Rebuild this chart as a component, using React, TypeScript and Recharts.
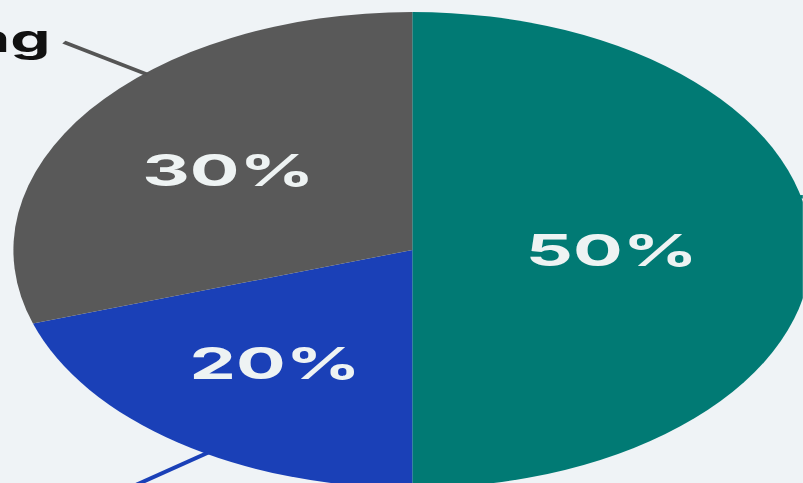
import React from 'react';
import { PieChart, Pie, Cell } from 'recharts';

const categories = ['Development', 'Design', 'Marketing'];
const shares = [50, 20, 30];
const colors = ['#017a74', '#1a40b7', '#595959'];

const data = categories.map((name, i) => ({ name, value: shares[i] }));

const STRETCH = 1.676;
const W = 479;
const H = 483;
const RAD = Math.PI / 180;
// label line start / end angle shifts relative to the slice mid angle (style)
const lineStartShift: Record<string, number> = { Development: 13, Design: 5, Marketing: -12 };
const lineEndShift: Record<string, number> = { Development: 11, Design: 0.5, Marketing: -9 };
const innerLabelFactor: Record<string, number> = { Development: 0.5, Design: 0.585, Marketing: 0.57 };
const lineColors: Record<string, string> = { Development: '#017a74', Design: '#1a40b7', Marketing: '#555555' };

const renderLabel = (props: any) => {
  const { cx, cy, midAngle, outerRadius, percent, name } = props;
  const ir = outerRadius * (innerLabelFactor[name] ?? 0.55);
  const tx = cx + ir * Math.cos(-midAngle * RAD);
  const ty = cy + ir * Math.sin(-midAngle * RAD);
  const sa = midAngle + (lineStartShift[name] ?? 0);
  const ea = midAngle + (lineEndShift[name] ?? 0);
  const sx = cx + (outerRadius - 2) * Math.cos(-sa * RAD);
  const sy = cy + (outerRadius - 2) * Math.sin(-sa * RAD);
  const ex = cx + (outerRadius + 56) * Math.cos(-ea * RAD);
  const ey = cy + (outerRadius + 56) * Math.sin(-ea * RAD);
  const right = Math.cos(-ea * RAD) >= 0;
  const below = ey > cy + outerRadius * 0.5;
  return (
    <g>
      <text
        x={tx}
        y={ty}
        fill="#eef3f3"
        textAnchor="middle"
        dominantBaseline="central"
        fontFamily="Inter, 'Noto Sans', sans-serif"
        fontWeight={700}
        fontSize={44}
      >
        {`${Math.round(percent * 100)}%`}
      </text>
      <line x1={sx} y1={sy} x2={ex} y2={ey} stroke={lineColors[name]} strokeWidth={3.5} />
      <text
        x={ex + (right ? 8 : -8)}
        y={ey + (below ? 40 : 10)}
        fill="#111111"
        textAnchor={right ? 'start' : 'end'}
        fontFamily="Inter, 'Noto Sans', sans-serif"
        fontWeight={700}
        fontSize={38}
      >
        {name}
      </text>
    </g>
  );
};

export default function App() {
  return (
    <div
      style={{
        position: 'fixed',
        left: 0,
        top: 0,
        width: 803,
        height: 483,
        background: '#eff3f6',
        overflow: 'hidden',
      }}
    >
      <div style={{ width: W, height: H, transform: `scaleX(${STRETCH})`, transformOrigin: '0 0' }}>
        <PieChart width={W} height={H} margin={{ top: 0, right: 0, bottom: 0, left: 0 }}>
          <Pie
            data={data}
            dataKey="value"
            nameKey="name"
            cx={246}
            cy={250}
            outerRadius={238}
            startAngle={90}
            endAngle={-270}
            stroke="none"
            label={renderLabel}
            labelLine={false}
            isAnimationActive={false}
          >
            {data.map((d, i) => (
              <Cell key={d.name} fill={colors[i]} />
            ))}
          </Pie>
        </PieChart>
      </div>
    </div>
  );
}
